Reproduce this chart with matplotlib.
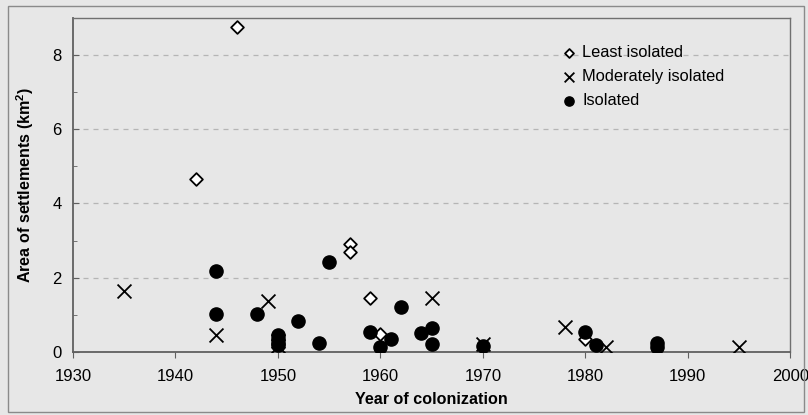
import numpy as np
import matplotlib.pyplot as plt
from matplotlib.patches import Rectangle

plt.rcParams['font.family'] = ['Liberation Sans', 'DejaVu Sans']
plt.rcParams['mathtext.fontset'] = 'custom'
plt.rcParams['mathtext.rm'] = 'Liberation Sans'
plt.rcParams['mathtext.bf'] = 'Liberation Sans:bold'

# least isolated settlements
least_year = [1946, 1942, 1957, 1957, 1959, 1960, 1980]
least_area = [8.75, 4.66, 2.9, 2.68, 1.46, 0.49, 0.35]

# moderately isolated
mod_year = [1935, 1944, 1949, 1950, 1950, 1965, 1970, 1978, 1982, 1995]
mod_area = [1.65, 0.46, 1.38, 0.3, 0.15, 1.46, 0.2, 0.68, 0.13, 0.13]

# isolated
iso_year = [1944, 1944, 1948, 1950, 1950, 1950, 1950, 1952, 1954, 1955, 1959, 1960,
            1961, 1962, 1964, 1965, 1965, 1970, 1980, 1981, 1987, 1987]
iso_area = [2.17, 1.03, 1.03, 0.45, 0.35, 0.25, 0.18, 0.84, 0.25, 2.42, 0.55, 0.12,
            0.35, 1.2, 0.5, 0.65, 0.22, 0.15, 0.55, 0.18, 0.25, 0.12]

bg = '#e7e7e7'
fig = plt.figure(figsize=(8.08, 4.15), dpi=100, facecolor=bg)
fig.patches.append(Rectangle((0.01, 0.008), 0.985, 0.978, transform=fig.transFigure,
                             fill=False, edgecolor='#8a8a8a', lw=1.0))
ax = fig.add_axes([0.0903, 0.152, 0.8877, 0.805])
ax.set_facecolor(bg)

ax.scatter(least_year, least_area, marker='D', s=42, facecolors='white',
           edgecolors='black', linewidths=1.3, label='Least isolated', zorder=3)
ax.scatter(mod_year, mod_area, marker='x', s=100, color='black', linewidths=1.3,
           label='Moderately isolated', zorder=3)
ax.scatter(iso_year, iso_area, marker='o', s=90, color='black',
           label='Isolated', zorder=3)

ax.set_xlim(1930, 2000)
ax.set_ylim(0, 9)
ax.set_xticks(np.arange(1930, 2001, 10))
ax.set_yticks([0, 2, 4, 6, 8])
ax.set_yticks(np.arange(1, 9, 2), minor=True)
ax.grid(axis='y', which='major', linestyle=(0, (4, 4)), color='#b5b5b5', lw=0.9)
ax.set_axisbelow(True)

for side in ['left', 'bottom']:
    ax.spines[side].set_color('#606060')
    ax.spines[side].set_linewidth(1.3)
for side in ['top', 'right']:
    ax.spines[side].set_color('#707070')
    ax.spines[side].set_linewidth(1.0)

ax.tick_params(axis='x', direction='out', length=4, color='#606060', labelsize=12, pad=8)
ax.tick_params(axis='y', direction='in', length=4, color='#606060', labelsize=12, pad=8)
ax.tick_params(axis='y', which='minor', direction='in', length=3, color='#606060')

ax.set_xlabel('Year of colonization', fontsize=11.6, fontweight='bold', labelpad=6)
ax.set_ylabel('Area of settlements (km$^\\mathbf{2}$)', fontsize=11.6, fontweight='bold', labelpad=12)

leg = ax.legend(loc='upper left', bbox_to_anchor=(0.66, 0.963), frameon=False,
                fontsize=11.8, handletextpad=0.3, labelspacing=0.55, handlelength=1.0,
                markerscale=0.7)

fig.savefig('out.png', dpi=100, facecolor=bg)
